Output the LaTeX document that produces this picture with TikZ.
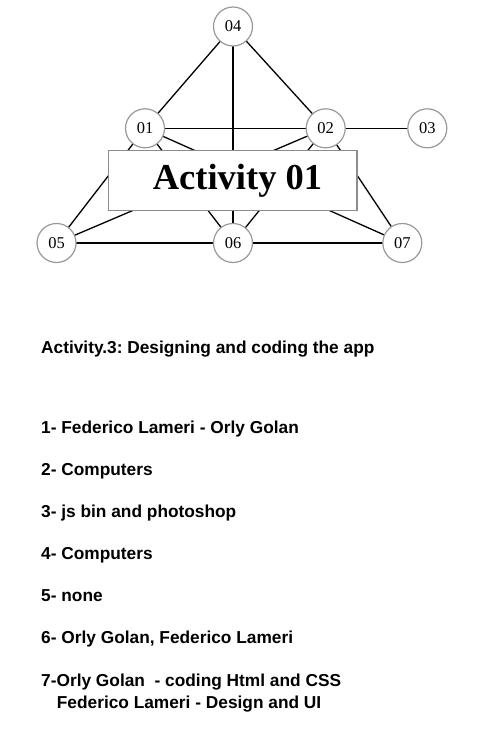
\documentclass[tikz,border=0pt]{standalone}
\usepackage{fontspec}
\setmainfont{Liberation Serif}
\newfontfamily\arialfont{Liberation Sans}
\frenchspacing
\begin{document}
\begin{tikzpicture}[x=1pt,y=-1pt,
  vtx/.style={circle,draw=black!40,fill=white,line width=1.2pt,minimum size=39pt,inner sep=0pt,font=\fontsize{16.5}{16.5}\selectfont},
  edge/.style={black,line width=1.3pt},
  actbox/.style={rectangle,draw=black!45,fill=white,line width=1.3pt,minimum width=248.5pt,minimum height=59.5pt,inner sep=0pt},
  acttitle/.style={anchor=base,inner sep=0pt,font=\fontsize{36.5}{36.5}\selectfont\bfseries},
  txt/.style={anchor=base west,inner sep=0pt,font=\arialfont\bfseries\fontsize{17.3}{17.3}\selectfont}]
\useasboundingbox (0,0) rectangle (501,739);
\fill[white] (0,0) rectangle (501,739);
% vertices
\coordinate (c04) at (233,26.5);
\coordinate (c01) at (145,128.3);
\coordinate (c02) at (325.7,128.3);
\coordinate (c03) at (427.3,128.3);
\coordinate (c05) at (56.5,243);
\coordinate (c06) at (233,243);
\coordinate (c07) at (402.3,243);
% edges
\draw[edge] (c04) -- (c01);
\draw[edge] (c04) -- (c02);
\draw[edge] (c04) -- (c06);
\draw[edge] (c01) -- (c02);
\draw[edge] (c02) -- (c03);
\draw[edge] (c01) -- (c05);
\draw[edge] (c01) -- (c06);
\draw[edge] (c01) -- (c07);
\draw[edge] (c02) -- (c05);
\draw[edge] (c02) -- (c06);
\draw[edge] (c02) -- (c07);
\draw[edge] (c05) -- (c06);
\draw[edge] (c06) -- (c07);
% box
\node[actbox] (act) at (232.7,180.4) {};
\node[acttitle] (acttext) at (237.5,189.3) {Activity 01};
% circles
\node[vtx] (n04) at (c04) {04};
\node[vtx] (n01) at (c01) {01};
\node[vtx] (n02) at (c02) {02};
\node[vtx] (n03) at (c03) {03};
\node[vtx] (n05) at (c05) {05};
\node[vtx] (n06) at (c06) {06};
\node[vtx] (n07) at (c07) {07};
% text
\node[txt] (t0) at (41,353.3) {Activity.3: Designing and coding the app};
\node[txt] (t1) at (41,433.3) {1- Federico Lameri - Orly Golan};
\node[txt] (t2) at (41,475.4) {2- Computers};
\node[txt] (t3) at (41,517.5) {3- js bin and photoshop};
\node[txt] (t4) at (41,559.6) {4- Computers};
\node[txt] (t5) at (41,601.7) {5- none};
\node[txt] (t6) at (41,643.8) {6- Orly Golan, Federico Lameri};
\node[txt] (t7) at (41,686.4) {7-Orly Golan\ \ - coding Html and CSS};
\node[txt] (t8) at (56.7,708.3) {Federico Lameri - Design and UI};
\end{tikzpicture}
\end{document}
